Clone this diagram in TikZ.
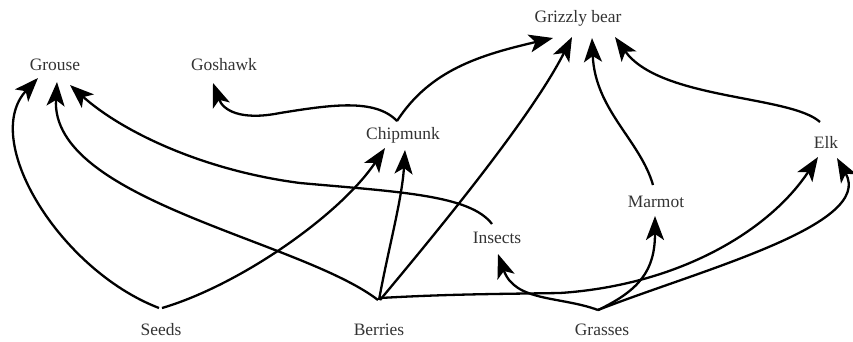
\documentclass[tikz,border=0pt]{standalone}
\usepackage{fontspec}
\setmainfont{Liberation Serif}
\usetikzlibrary{arrows.meta}
\begin{document}
\begin{tikzpicture}[x=1bp,y=-1bp,
  lbl/.style={inner sep=0pt,font=\fontsize{17.5}{20}\selectfont,text=black!80},
  link/.style={line width=2.3bp,-{Stealth[length=24bp,width=18bp,inset=6bp]}}]
\useasboundingbox (0,0) rectangle (853,341);
% nodes
\node[lbl] (grizzly) at (578,18) {Grizzly bear};
\node[lbl] (grouse) at (55,65) {Grouse};
\node[lbl] (goshawk) at (224,65) {Goshawk};
\node[lbl] (chipmunk) at (403,135) {Chipmunk};
\node[lbl] (elk) at (826,142) {Elk};
\node[lbl] (marmot) at (656,202) {Marmot};
\node[lbl] (insects) at (497,238) {Insects};
\node[lbl] (seeds) at (161,330) {Seeds};
\node[lbl] (berries) at (379,330) {Berries};
\node[lbl] (grasses) at (602,330) {Grasses};
% connectors
\draw[link] ([shift={(-2,-22)}]seeds.center) .. controls (60,270) and (-20,140) .. ([shift={(-17,13)}]grouse.center);
\draw[link] ([shift={(1,-22)}]seeds.center) .. controls (240,285) and (340,215) .. ([shift={(-18,13)}]chipmunk.center);
\draw[link] ([shift={(-1,-30)}]berries.center) .. controls (300,240) and (50,200) .. ([shift={(2,17)}]grouse.center);
\draw[link] ([shift={(-5,-14)}]insects.center) .. controls (470,195) and (400,192) .. (300,183) .. controls (200,170) and (120,130) .. ([shift={(15,20)}]grouse.center);
\draw[link] ([shift={(-6,-14)}]chipmunk.center) .. controls (375,98) and (330,105) .. (280,113) .. controls (240,121) and (223,110) .. ([shift={(-11,18)}]goshawk.center);
\draw[link] ([shift={(-6,-14)}]chipmunk.center) .. controls (430,70) and (480,55) .. ([shift={(-25,20)}]grizzly.center);
\draw[link] ([shift={(0,-30)}]berries.center) .. controls (388,250) and (402,200) .. ([shift={(2,15)}]chipmunk.center);
\draw[link] ([shift={(1,-30)}]berries.center) .. controls (430,240) and (530,120) .. ([shift={(-6,19)}]grizzly.center);
\draw[link] ([shift={(1,-32)}]berries.center) .. controls (450,294) and (500,294) .. (560,293) .. controls (680,285) and (770,230) .. ([shift={(-8,15)}]elk.center);
\draw[link] ([shift={(-4,-20)}]grasses.center) .. controls (560,296) and (515,302) .. ([shift={(1,16)}]insects.center);
\draw[link] ([shift={(-4,-20)}]grasses.center) .. controls (640,290) and (655,270) .. ([shift={(-1,14)}]marmot.center);
\draw[link] ([shift={(-4,-20)}]grasses.center) .. controls (700,270) and (875,225) .. ([shift={(11,16)}]elk.center);
\draw[link] ([shift={(-3,-17)}]marmot.center) .. controls (640,140) and (595,110) .. ([shift={(14,20)}]grizzly.center);
\draw[link] ([shift={(-6,-20)}]elk.center) .. controls (790,95) and (660,100) .. ([shift={(37,19)}]grizzly.center);
\end{tikzpicture}
\end{document}
